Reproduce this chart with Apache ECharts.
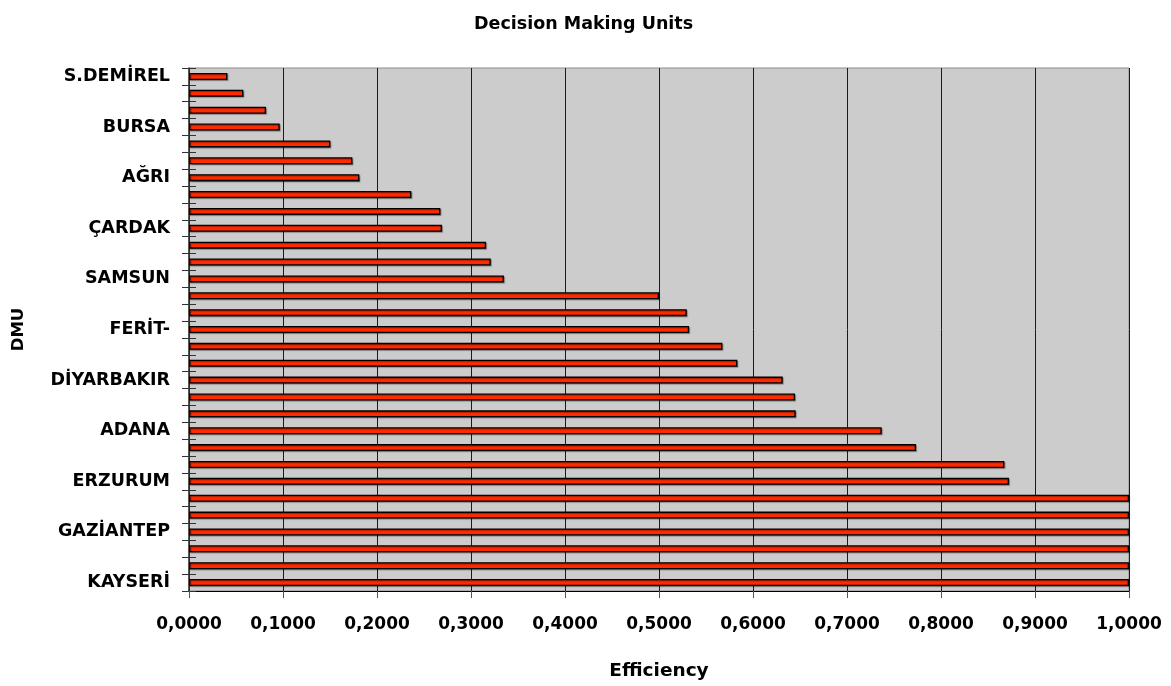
<!DOCTYPE html>
<html>
<head>
<meta charset="utf-8">
<script src="https://cdn.jsdelivr.net/npm/echarts@6/dist/echarts.min.js"></script>
<style>
  html, body { margin: 0; padding: 0; background: #ffffff; }
  #chart { width: 1171px; height: 686px; }
</style>
</head>
<body>
<div id="chart"></div>
<script>
// Categories, top to bottom (only every third name is printed in the reference)
const categories = [
  'S.DEMİREL', '', '', 'BURSA', '', '', 'AĞRI', '', '', 'ÇARDAK', '',
  '', 'SAMSUN', '', '', 'FERİT-', '', '', 'DİYARBAKIR', '', '', 'ADANA',
  '', '', 'ERZURUM', '', '', 'GAZİANTEP', '', '', 'KAYSERİ'
];
// Efficiency values, top to bottom
const efficiency = [
  0.0408, 0.0578, 0.0819, 0.0965, 0.1503, 0.1738, 0.1812, 0.2365, 0.2674, 0.2691,
  0.3160, 0.3210, 0.3350, 0.5000, 0.5295, 0.5320, 0.5674, 0.5833, 0.6316, 0.6447,
  0.6454, 0.7369, 0.7734, 0.8674, 0.8723, 1.0000, 1.0000, 1.0000, 1.0000, 1.0000,
  1.0000
];
// Value axis ticks
const xTickMin = 0;
const xTickMax = 1;
const xTickStep = 0.1;

const titleText = 'Decision Making Units';
const xAxisTitle = 'Efficiency';
const yAxisTitle = 'DMU';

const FONT = 'DejaVu Sans';
const chart = echarts.init(document.getElementById('chart'));
chart.setOption({
  animation: false,
  backgroundColor: '#ffffff',
  title: {
    text: titleText,
    left: 469,
    top: 10,
    textStyle: { fontFamily: FONT, fontWeight: 'bold', fontSize: 17.5, color: '#000' }
  },
  grid: {
    left: 189, right: 42, top: 68, bottom: 86,
    show: true,
    backgroundColor: '#cccccc',
    borderColor: '#8c8c8c',
    borderWidth: 1
  },
  xAxis: {
    type: 'value',
    min: xTickMin,
    max: xTickMax,
    interval: xTickStep,
    name: xAxisTitle,
    nameLocation: 'middle',
    nameGap: 71,
    nameTextStyle: { fontFamily: FONT, fontWeight: 'bold', fontSize: 18.5, color: '#000' },
    axisLine: { show: true, lineStyle: { color: '#000', width: 1 } },
    axisTick: { show: true, length: 7, lineStyle: { color: '#555', width: 1 } },
    axisLabel: {
      margin: 25,
      fontFamily: FONT, fontWeight: 'bold', fontSize: 17, color: '#000',
      formatter: v => v.toFixed(4).replace('.', ',')
    },
    splitLine: { show: true, lineStyle: { color: '#1a1a1a', width: 1 } }
  },
  yAxis: [{
    type: 'category',
    inverse: true,
    data: categories,
    name: yAxisTitle,
    nameLocation: 'middle',
    nameRotate: 90,
    nameGap: 162,
    nameTextStyle: { fontFamily: FONT, fontWeight: 'bold', fontSize: 16.5, color: '#000' },
    axisLine: { show: true, lineStyle: { color: '#333', width: 1.5 } },
    axisTick: { show: true, length: 7, interval: 0, lineStyle: { color: '#333', width: 1 } },
    axisLabel: {
      interval: 0,
      margin: 19,
      fontFamily: FONT, fontWeight: 'bold', fontSize: 17.5, color: '#000'
    },
    splitLine: { show: false }
  }, {
    // same category axis drawn again only for the inner half of each tick
    type: 'category',
    inverse: true,
    position: 'left',
    offset: 0,
    data: categories,
    axisLine: { show: false },
    axisTick: { show: true, inside: true, length: 7, interval: 0, lineStyle: { color: '#333', width: 1 } },
    axisLabel: { show: false },
    splitLine: { show: false }
  }],
  series: [{
    type: 'bar',
    yAxisIndex: 0,
    data: efficiency,
    barWidth: 7,
    itemStyle: {
      color: '#ff2a00',
      borderColor: '#000',
      borderWidth: 1.3,
      shadowColor: 'rgba(0,0,0,0.35)',
      shadowOffsetX: 1,
      shadowOffsetY: 1,
      shadowBlur: 1
    }
  }]
});
</script>
</body>
</html>
